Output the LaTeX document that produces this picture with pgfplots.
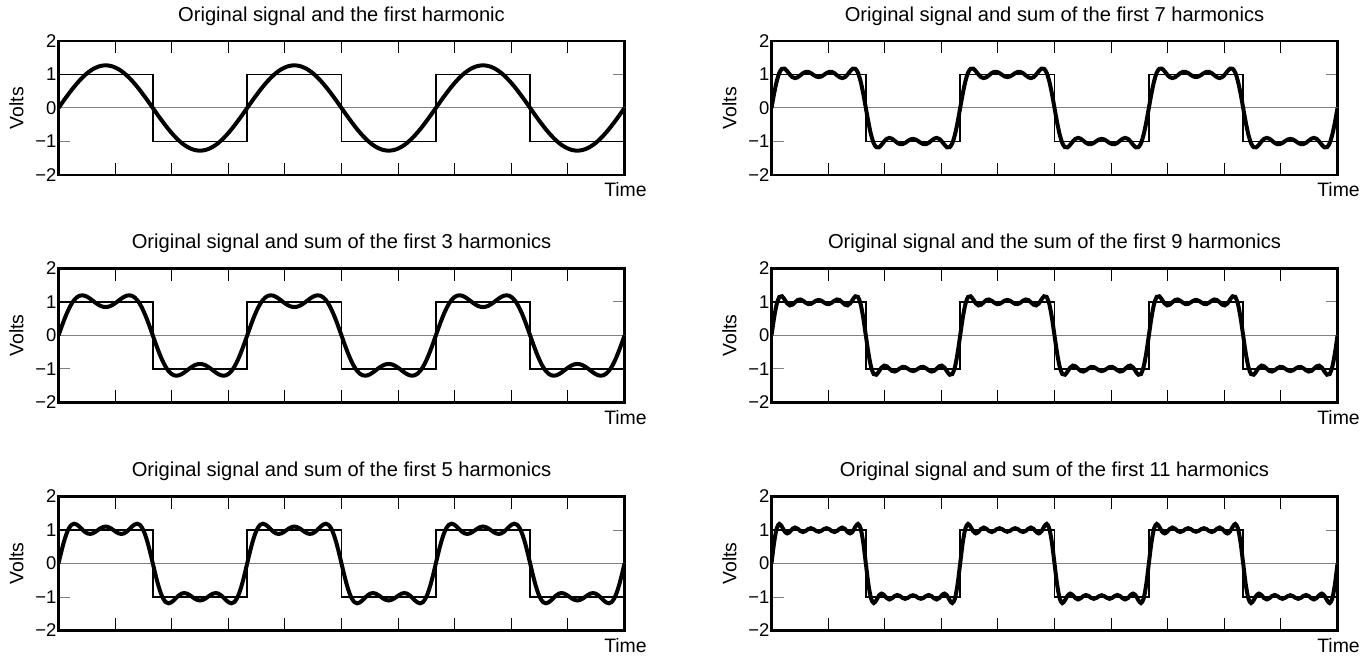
\documentclass[border=0pt]{standalone}
\usepackage{fontspec}
\setmainfont{Liberation Sans}
\usepackage{pgfplots}
\usepackage{pgfplotstable}
\pgfplotsset{compat=1.18}

\pgfplotstableread{
t s1 s3 s5 s7 s9 s11
0 0 0 0 0 0 0
5 0.111 0.221 0.328 0.433 0.533 0.628
10 0.221 0.433 0.628 0.799 0.941 1.050
15 0.330 0.630 0.876 1.051 1.151 1.181
20 0.435 0.803 1.054 1.171 1.171 1.096
25 0.538 0.948 1.157 1.173 1.072 0.957
30 0.637 1.061 1.188 1.097 0.956 0.898
35 0.730 1.140 1.162 0.998 0.898 0.946
40 0.818 1.186 1.099 0.920 0.920 1.034
45 0.900 1.200 1.020 0.892 0.992 1.074
50 0.975 1.188 0.948 0.917 1.058 1.038
55 1.043 1.153 0.899 0.976 1.076 0.971
60 1.103 1.103 0.882 1.040 1.040 0.939
65 1.154 1.044 0.898 1.079 0.979 0.969
70 1.196 0.984 0.940 1.079 0.938 1.027
75 1.230 0.930 0.996 1.043 0.943 1.055
80 1.254 0.886 1.050 0.988 0.988 1.027
85 1.268 0.858 1.089 0.940 1.040 0.974
90 1.273 0.849 1.104 0.922 1.063 0.947
95 1.268 0.858 1.089 0.940 1.040 0.974
100 1.254 0.886 1.050 0.988 0.988 1.027
105 1.230 0.930 0.996 1.043 0.943 1.055
110 1.196 0.984 0.940 1.079 0.938 1.027
115 1.154 1.044 0.898 1.079 0.979 0.969
120 1.103 1.103 0.882 1.040 1.040 0.939
125 1.043 1.153 0.899 0.976 1.076 0.971
130 0.975 1.188 0.948 0.917 1.058 1.038
135 0.900 1.200 1.020 0.892 0.992 1.074
140 0.818 1.186 1.099 0.920 0.920 1.034
145 0.730 1.140 1.162 0.998 0.898 0.946
150 0.637 1.061 1.188 1.097 0.956 0.898
155 0.538 0.948 1.157 1.173 1.072 0.957
160 0.435 0.803 1.054 1.171 1.171 1.096
165 0.330 0.630 0.876 1.051 1.151 1.181
170 0.221 0.433 0.628 0.799 0.941 1.050
175 0.111 0.221 0.328 0.433 0.533 0.628
180 0 0 0 0 0 0
185 -0.111 -0.221 -0.328 -0.433 -0.533 -0.628
190 -0.221 -0.433 -0.628 -0.799 -0.941 -1.050
195 -0.330 -0.630 -0.876 -1.051 -1.151 -1.181
200 -0.435 -0.803 -1.054 -1.171 -1.171 -1.096
205 -0.538 -0.948 -1.157 -1.173 -1.072 -0.957
210 -0.637 -1.061 -1.188 -1.097 -0.956 -0.898
215 -0.730 -1.140 -1.162 -0.998 -0.898 -0.946
220 -0.818 -1.186 -1.099 -0.920 -0.920 -1.034
225 -0.900 -1.200 -1.020 -0.892 -0.992 -1.074
230 -0.975 -1.188 -0.948 -0.917 -1.058 -1.038
235 -1.043 -1.153 -0.899 -0.976 -1.076 -0.971
240 -1.103 -1.103 -0.882 -1.040 -1.040 -0.939
245 -1.154 -1.044 -0.898 -1.079 -0.979 -0.969
250 -1.196 -0.984 -0.940 -1.079 -0.938 -1.027
255 -1.230 -0.930 -0.996 -1.043 -0.943 -1.055
260 -1.254 -0.886 -1.050 -0.988 -0.988 -1.027
265 -1.268 -0.858 -1.089 -0.940 -1.040 -0.974
270 -1.273 -0.849 -1.104 -0.922 -1.063 -0.947
275 -1.268 -0.858 -1.089 -0.940 -1.040 -0.974
280 -1.254 -0.886 -1.050 -0.988 -0.988 -1.027
285 -1.230 -0.930 -0.996 -1.043 -0.943 -1.055
290 -1.196 -0.984 -0.940 -1.079 -0.938 -1.027
295 -1.154 -1.044 -0.898 -1.079 -0.979 -0.969
300 -1.103 -1.103 -0.882 -1.040 -1.040 -0.939
305 -1.043 -1.153 -0.899 -0.976 -1.076 -0.971
310 -0.975 -1.188 -0.948 -0.917 -1.058 -1.038
315 -0.900 -1.200 -1.020 -0.892 -0.992 -1.074
320 -0.818 -1.186 -1.099 -0.920 -0.920 -1.034
325 -0.730 -1.140 -1.162 -0.998 -0.898 -0.946
330 -0.637 -1.061 -1.188 -1.097 -0.956 -0.898
335 -0.538 -0.948 -1.157 -1.173 -1.072 -0.957
340 -0.435 -0.803 -1.054 -1.171 -1.171 -1.096
345 -0.330 -0.630 -0.876 -1.051 -1.151 -1.181
350 -0.221 -0.433 -0.628 -0.799 -0.941 -1.050
355 -0.111 -0.221 -0.328 -0.433 -0.533 -0.628
360 0 0 0 0 0 0
365 0.111 0.221 0.328 0.433 0.533 0.628
370 0.221 0.433 0.628 0.799 0.941 1.050
375 0.330 0.630 0.876 1.051 1.151 1.181
380 0.435 0.803 1.054 1.171 1.171 1.096
385 0.538 0.948 1.157 1.173 1.072 0.957
390 0.637 1.061 1.188 1.097 0.956 0.898
395 0.730 1.140 1.162 0.998 0.898 0.946
400 0.818 1.186 1.099 0.920 0.920 1.034
405 0.900 1.200 1.020 0.892 0.992 1.074
410 0.975 1.188 0.948 0.917 1.058 1.038
415 1.043 1.153 0.899 0.976 1.076 0.971
420 1.103 1.103 0.882 1.040 1.040 0.939
425 1.154 1.044 0.898 1.079 0.979 0.969
430 1.196 0.984 0.940 1.079 0.938 1.027
435 1.230 0.930 0.996 1.043 0.943 1.055
440 1.254 0.886 1.050 0.988 0.988 1.027
445 1.268 0.858 1.089 0.940 1.040 0.974
450 1.273 0.849 1.104 0.922 1.063 0.947
455 1.268 0.858 1.089 0.940 1.040 0.974
460 1.254 0.886 1.050 0.988 0.988 1.027
465 1.230 0.930 0.996 1.043 0.943 1.055
470 1.196 0.984 0.940 1.079 0.938 1.027
475 1.154 1.044 0.898 1.079 0.979 0.969
480 1.103 1.103 0.882 1.040 1.040 0.939
485 1.043 1.153 0.899 0.976 1.076 0.971
490 0.975 1.188 0.948 0.917 1.058 1.038
495 0.900 1.200 1.020 0.892 0.992 1.074
500 0.818 1.186 1.099 0.920 0.920 1.034
505 0.730 1.140 1.162 0.998 0.898 0.946
510 0.637 1.061 1.188 1.097 0.956 0.898
515 0.538 0.948 1.157 1.173 1.072 0.957
520 0.435 0.803 1.054 1.171 1.171 1.096
525 0.330 0.630 0.876 1.051 1.151 1.181
530 0.221 0.433 0.628 0.799 0.941 1.050
535 0.111 0.221 0.328 0.433 0.533 0.628
540 0 0 0 0 0 0
545 -0.111 -0.221 -0.328 -0.433 -0.533 -0.628
550 -0.221 -0.433 -0.628 -0.799 -0.941 -1.050
555 -0.330 -0.630 -0.876 -1.051 -1.151 -1.181
560 -0.435 -0.803 -1.054 -1.171 -1.171 -1.096
565 -0.538 -0.948 -1.157 -1.173 -1.072 -0.957
570 -0.637 -1.061 -1.188 -1.097 -0.956 -0.898
575 -0.730 -1.140 -1.162 -0.998 -0.898 -0.946
580 -0.818 -1.186 -1.099 -0.920 -0.920 -1.034
585 -0.900 -1.200 -1.020 -0.892 -0.992 -1.074
590 -0.975 -1.188 -0.948 -0.917 -1.058 -1.038
595 -1.043 -1.153 -0.899 -0.976 -1.076 -0.971
600 -1.103 -1.103 -0.882 -1.040 -1.040 -0.939
605 -1.154 -1.044 -0.898 -1.079 -0.979 -0.969
610 -1.196 -0.984 -0.940 -1.079 -0.938 -1.027
615 -1.230 -0.930 -0.996 -1.043 -0.943 -1.055
620 -1.254 -0.886 -1.050 -0.988 -0.988 -1.027
625 -1.268 -0.858 -1.089 -0.940 -1.040 -0.974
630 -1.273 -0.849 -1.104 -0.922 -1.063 -0.947
635 -1.268 -0.858 -1.089 -0.940 -1.040 -0.974
640 -1.254 -0.886 -1.050 -0.988 -0.988 -1.027
645 -1.230 -0.930 -0.996 -1.043 -0.943 -1.055
650 -1.196 -0.984 -0.940 -1.079 -0.938 -1.027
655 -1.154 -1.044 -0.898 -1.079 -0.979 -0.969
660 -1.103 -1.103 -0.882 -1.040 -1.040 -0.939
665 -1.043 -1.153 -0.899 -0.976 -1.076 -0.971
670 -0.975 -1.188 -0.948 -0.917 -1.058 -1.038
675 -0.900 -1.200 -1.020 -0.892 -0.992 -1.074
680 -0.818 -1.186 -1.099 -0.920 -0.920 -1.034
685 -0.730 -1.140 -1.162 -0.998 -0.898 -0.946
690 -0.637 -1.061 -1.188 -1.097 -0.956 -0.898
695 -0.538 -0.948 -1.157 -1.173 -1.072 -0.957
700 -0.435 -0.803 -1.054 -1.171 -1.171 -1.096
705 -0.330 -0.630 -0.876 -1.051 -1.151 -1.181
710 -0.221 -0.433 -0.628 -0.799 -0.941 -1.050
715 -0.111 -0.221 -0.328 -0.433 -0.533 -0.628
720 0 0 0 0 0 0
725 0.111 0.221 0.328 0.433 0.533 0.628
730 0.221 0.433 0.628 0.799 0.941 1.050
735 0.330 0.630 0.876 1.051 1.151 1.181
740 0.435 0.803 1.054 1.171 1.171 1.096
745 0.538 0.948 1.157 1.173 1.072 0.957
750 0.637 1.061 1.188 1.097 0.956 0.898
755 0.730 1.140 1.162 0.998 0.898 0.946
760 0.818 1.186 1.099 0.920 0.920 1.034
765 0.900 1.200 1.020 0.892 0.992 1.074
770 0.975 1.188 0.948 0.917 1.058 1.038
775 1.043 1.153 0.899 0.976 1.076 0.971
780 1.103 1.103 0.882 1.040 1.040 0.939
785 1.154 1.044 0.898 1.079 0.979 0.969
790 1.196 0.984 0.940 1.079 0.938 1.027
795 1.230 0.930 0.996 1.043 0.943 1.055
800 1.254 0.886 1.050 0.988 0.988 1.027
805 1.268 0.858 1.089 0.940 1.040 0.974
810 1.273 0.849 1.104 0.922 1.063 0.947
815 1.268 0.858 1.089 0.940 1.040 0.974
820 1.254 0.886 1.050 0.988 0.988 1.027
825 1.230 0.930 0.996 1.043 0.943 1.055
830 1.196 0.984 0.940 1.079 0.938 1.027
835 1.154 1.044 0.898 1.079 0.979 0.969
840 1.103 1.103 0.882 1.040 1.040 0.939
845 1.043 1.153 0.899 0.976 1.076 0.971
850 0.975 1.188 0.948 0.917 1.058 1.038
855 0.900 1.200 1.020 0.892 0.992 1.074
860 0.818 1.186 1.099 0.920 0.920 1.034
865 0.730 1.140 1.162 0.998 0.898 0.946
870 0.637 1.061 1.188 1.097 0.956 0.898
875 0.538 0.948 1.157 1.173 1.072 0.957
880 0.435 0.803 1.054 1.171 1.171 1.096
885 0.330 0.630 0.876 1.051 1.151 1.181
890 0.221 0.433 0.628 0.799 0.941 1.050
895 0.111 0.221 0.328 0.433 0.533 0.628
900 0 0 0 0 0 0
905 -0.111 -0.221 -0.328 -0.433 -0.533 -0.628
910 -0.221 -0.433 -0.628 -0.799 -0.941 -1.050
915 -0.330 -0.630 -0.876 -1.051 -1.151 -1.181
920 -0.435 -0.803 -1.054 -1.171 -1.171 -1.096
925 -0.538 -0.948 -1.157 -1.173 -1.072 -0.957
930 -0.637 -1.061 -1.188 -1.097 -0.956 -0.898
935 -0.730 -1.140 -1.162 -0.998 -0.898 -0.946
940 -0.818 -1.186 -1.099 -0.920 -0.920 -1.034
945 -0.900 -1.200 -1.020 -0.892 -0.992 -1.074
950 -0.975 -1.188 -0.948 -0.917 -1.058 -1.038
955 -1.043 -1.153 -0.899 -0.976 -1.076 -0.971
960 -1.103 -1.103 -0.882 -1.040 -1.040 -0.939
965 -1.154 -1.044 -0.898 -1.079 -0.979 -0.969
970 -1.196 -0.984 -0.940 -1.079 -0.938 -1.027
975 -1.230 -0.930 -0.996 -1.043 -0.943 -1.055
980 -1.254 -0.886 -1.050 -0.988 -0.988 -1.027
985 -1.268 -0.858 -1.089 -0.940 -1.040 -0.974
990 -1.273 -0.849 -1.104 -0.922 -1.063 -0.947
995 -1.268 -0.858 -1.089 -0.940 -1.040 -0.974
1000 -1.254 -0.886 -1.050 -0.988 -0.988 -1.027
1005 -1.230 -0.930 -0.996 -1.043 -0.943 -1.055
1010 -1.196 -0.984 -0.940 -1.079 -0.938 -1.027
1015 -1.154 -1.044 -0.898 -1.079 -0.979 -0.969
1020 -1.103 -1.103 -0.882 -1.040 -1.040 -0.939
1025 -1.043 -1.153 -0.899 -0.976 -1.076 -0.971
1030 -0.975 -1.188 -0.948 -0.917 -1.058 -1.038
1035 -0.900 -1.200 -1.020 -0.892 -0.992 -1.074
1040 -0.818 -1.186 -1.099 -0.920 -0.920 -1.034
1045 -0.730 -1.140 -1.162 -0.998 -0.898 -0.946
1050 -0.637 -1.061 -1.188 -1.097 -0.956 -0.898
1055 -0.538 -0.948 -1.157 -1.173 -1.072 -0.957
1060 -0.435 -0.803 -1.054 -1.171 -1.171 -1.096
1065 -0.330 -0.630 -0.876 -1.051 -1.151 -1.181
1070 -0.221 -0.433 -0.628 -0.799 -0.941 -1.050
1075 -0.111 -0.221 -0.328 -0.433 -0.533 -0.628
1080 0 0 0 0 0 0
}\fdata

\pgfplotstableread{
t v
0 1
180 -1
360 1
540 -1
720 1
900 -1
1080 -1
}\sqdata

\pgfplotsset{
  fourier/.style={
    width=566bp, height=134bp, scale only axis,
    anchor=south west,
    xmin=0, xmax=1080, ymin=-2, ymax=2,
    xtick={108,216,324,432,540,648,756,864,972},
    xticklabels={},
    ytick={-2,-1,0,1,2},
    yticklabels={−2,−1,0,1,2},
    tick align=inside,
    major tick length=12bp,
    xtick style={black, line width=1bp},
    ytick style={gray, line width=1bp},
    axis line style={line width=2.5bp},
    yticklabel style={font=\fontsize{18.5}{20}\selectfont, inner sep=2bp},
    ylabel={Volts},
    ylabel style={at={(axis description cs:-0.0742,0.5)}, anchor=center, font=\fontsize{19.5}{22}\selectfont},
    xlabel={Time},
    xlabel style={at={(axis description cs:1,0)}, anchor=base, xshift=1bp, yshift=-22bp, font=\fontsize{19.5}{22}\selectfont},
    title style={at={(axis description cs:0.5,1)}, anchor=base, yshift=14bp, font=\fontsize{20.2}{23}\selectfont},
    clip=true,
  },
  zeroline/.style={gray, line width=1bp},
  sqwave/.style={black, line width=1.9bp, const plot, mark=none},
  fcurve/.style={black, line width=4bp, smooth, mark=none},
}

\begin{document}
\begin{tikzpicture}
\useasboundingbox (0,0) rectangle (1366bp,662bp);

\begin{axis}[fourier, at={(58.5bp,487bp)}, title={Original signal and the first harmonic}]
\addplot[zeroline] coordinates {(0,0) (1080,0)};
\addplot[sqwave] table[x=t,y=v]{\sqdata};
\addplot[fcurve] table[x=t,y=s1]{\fdata};
\end{axis}

\begin{axis}[fourier, at={(58.5bp,259.5bp)}, title={Original signal and sum of the first 3 harmonics}]
\addplot[zeroline] coordinates {(0,0) (1080,0)};
\addplot[sqwave] table[x=t,y=v]{\sqdata};
\addplot[fcurve] table[x=t,y=s3]{\fdata};
\end{axis}

\begin{axis}[fourier, at={(58.5bp,31.5bp)}, title={Original signal and sum of the first 5 harmonics}]
\addplot[zeroline] coordinates {(0,0) (1080,0)};
\addplot[sqwave] table[x=t,y=v]{\sqdata};
\addplot[fcurve] table[x=t,y=s5]{\fdata};
\end{axis}

\begin{axis}[fourier, at={(771.5bp,487bp)}, title={Original signal and sum of the first 7 harmonics}]
\addplot[zeroline] coordinates {(0,0) (1080,0)};
\addplot[sqwave] table[x=t,y=v]{\sqdata};
\addplot[fcurve] table[x=t,y=s7]{\fdata};
\end{axis}

\begin{axis}[fourier, at={(771.5bp,259.5bp)}, title={Original signal and the sum of the first 9 harmonics}]
\addplot[zeroline] coordinates {(0,0) (1080,0)};
\addplot[sqwave] table[x=t,y=v]{\sqdata};
\addplot[fcurve] table[x=t,y=s9]{\fdata};
\end{axis}

\begin{axis}[fourier, at={(771.5bp,31.5bp)}, title={Original signal and sum of the first 11 harmonics}]
\addplot[zeroline] coordinates {(0,0) (1080,0)};
\addplot[sqwave] table[x=t,y=v]{\sqdata};
\addplot[fcurve] table[x=t,y=s11]{\fdata};
\end{axis}

\end{tikzpicture}
\end{document}
